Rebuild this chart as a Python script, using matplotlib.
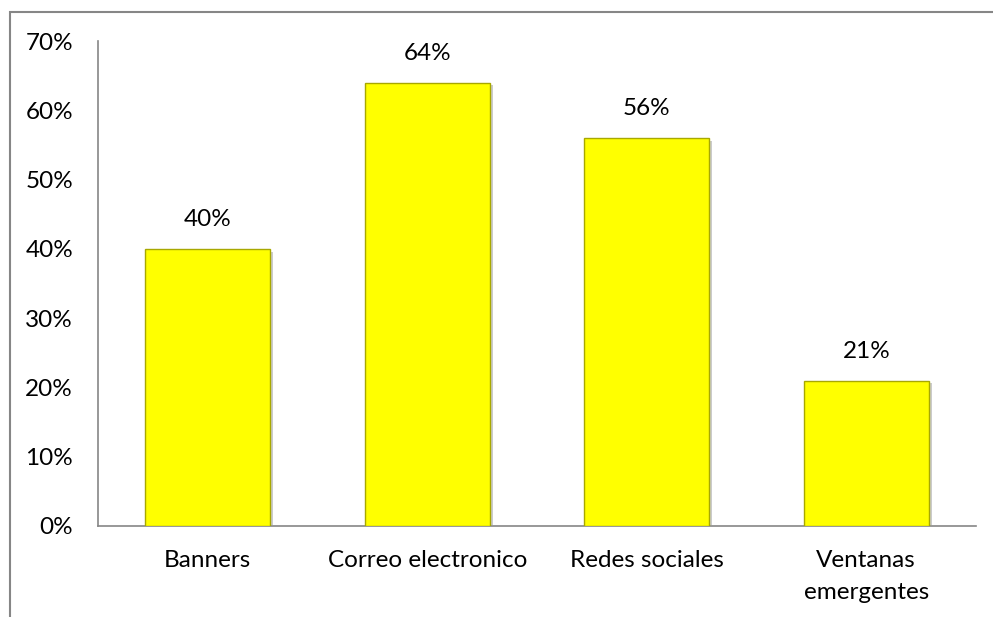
import matplotlib
matplotlib.use("Agg")
import matplotlib.pyplot as plt
import matplotlib.patheffects as pe
from matplotlib.patches import Rectangle
from matplotlib.ticker import FuncFormatter

categories = ["Banners", "Correo electronico", "Redes sociales", "Ventanas\nemergentes"]
values = [0.40, 0.64, 0.56, 0.21]
labels = ["40%", "64%", "56%", "21%"]

plt.rcParams["font.family"] = ["Lato", "DejaVu Sans"]

fig = plt.figure(figsize=(9.93, 6.17), dpi=100)
ax = fig.add_axes([98 / 993, 1 - 526 / 617, (976 - 98) / 993, (526 - 41) / 617])

bars = ax.bar(range(len(values)), values, width=0.57, color="#FFFF00",
              edgecolor="#A8A800", linewidth=1.0, zorder=3)
for b in bars:
    b.set_path_effects([pe.SimplePatchShadow(offset=(2, -2), shadow_rgbFace="#999999", alpha=0.5),
                        pe.Normal()])

for i, (v, lab) in enumerate(zip(values, labels)):
    ax.annotate(lab, (i, v), xytext=(0, 21), textcoords="offset points",
                ha="center", va="center", fontsize=17.5, color="#000000")

ax.set_xlim(-0.5, len(values) - 0.5)
ax.set_ylim(0, 0.70)
ax.set_yticks([i / 10 for i in range(8)])
ax.yaxis.set_major_formatter(FuncFormatter(lambda y, _: f"{y * 100:.0f}%"))
ax.set_xticks(range(len(categories)))
ax.set_xticklabels(categories, linespacing=1.65)
ax.tick_params(axis="both", length=0, labelsize=17.5, colors="#000000")
ax.tick_params(axis="y", pad=18)
ax.tick_params(axis="x", pad=17)
for t in ax.get_xticklabels():
    t.set_verticalalignment("top")

for s in ["top", "right"]:
    ax.spines[s].set_visible(False)
for s in ["left", "bottom"]:
    ax.spines[s].set_color("#868686")
    ax.spines[s].set_linewidth(1.2)

# outer chart frame (right and bottom edges fall outside the picture)
fig.patches.append(Rectangle((9.5 / 993, -0.1), 1.2, 1.1 - 11.5 / 617, transform=fig.transFigure,
                             fill=False, edgecolor="#868686", linewidth=1.5))

fig.savefig("out.png", dpi=100)
